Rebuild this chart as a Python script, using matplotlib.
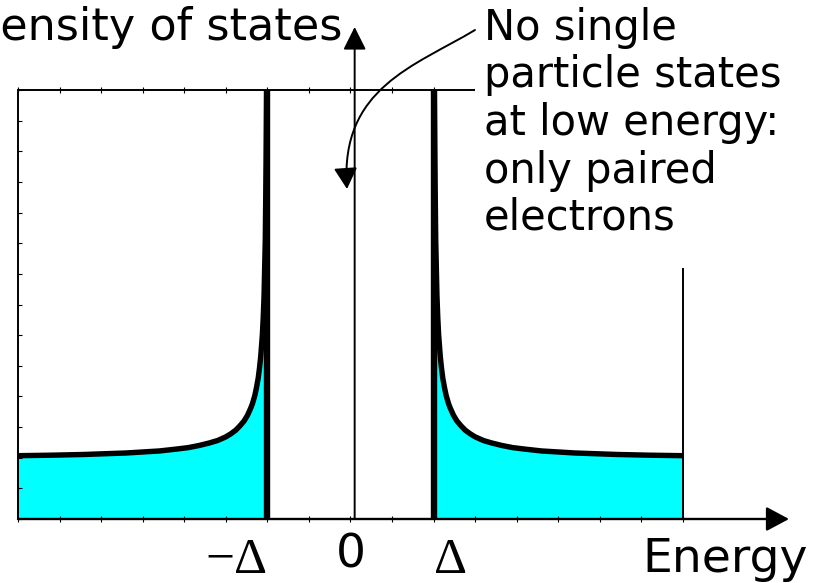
import matplotlib
matplotlib.use("Agg")
import matplotlib.pyplot as plt
import matplotlib.transforms as mtransforms
from matplotlib.patches import FancyArrowPatch, Rectangle
from matplotlib.path import Path
import numpy as np

# BCS quasiparticle density of states (units of N(0), energy in units of the gap)
gap_energy = [1.0, 1.008, 1.015, 1.025, 1.04, 1.05, 1.06, 1.08, 1.095, 1.11, 1.13, 1.15,
              1.18, 1.20, 1.24, 1.28, 1.33, 1.38, 1.44, 1.50, 1.60, 1.70, 1.82, 1.95,
              2.1, 2.3, 2.7, 3.2, 3.6, 4.0]
gap_dos = [7.0, 7.0, 5.84, 4.56, 3.64, 3.28, 3.01, 2.65, 2.46, 2.30, 2.15, 2.02,
           1.88, 1.81, 1.69, 1.60, 1.52, 1.45, 1.39, 1.34, 1.28, 1.24, 1.20, 1.165,
           1.14, 1.11, 1.077, 1.053, 1.041, 1.033]
gap = 1.0
e_min, e_max = -4.0, 4.0
dos_max = 7.0

x_tick_labels = ["\u2212\u0394", "0", "\u0394"]
y_label = "Density of states"
x_label = "Energy"
note_lines = ["No single", "particle states", "at low energy:", "only paired", "electrons"]

W, H = 820, 583
fig = plt.figure(figsize=(W / 100, H / 100), dpi=100)


def fx(px):
    return px / W


def fy(py):
    return 1 - py / H


ax = fig.add_axes([fx(18), fy(519), fx(683) - fx(18), fy(90) - fy(519)])
ax.set_xlim(e_min, e_max)
ax.set_ylim(0, dos_max)

e_pos = np.array(gap_energy)
d_pos = np.array(gap_dos)
for sign in (-1, 1):
    e = sign * e_pos
    ax.fill_between(e, 0, d_pos, color="#00ffff", lw=0, zorder=1)
    ax.plot(e[1:], d_pos[1:], color="black", lw=3.9, solid_capstyle="butt",
            solid_joinstyle="round", zorder=3)
    ax.plot([sign * gap, sign * gap], [0, dos_max], color="black", lw=4.6,
            solid_capstyle="butt", zorder=3)

for side, sp in ax.spines.items():
    sp.set_linewidth(1.4)
    sp.set_zorder(2.5)

ax.set_xticks(np.arange(e_min, e_max + 0.01, 0.5))
ax.set_yticks(np.arange(0, dos_max + 0.01, 0.5))
ax.tick_params(axis="x", which="both", top=True, bottom=True, direction="inout",
               length=4, width=0.8, labelbottom=False)
ax.tick_params(axis="y", which="both", left=True, right=False, direction="in",
               length=3, width=0.8, labelleft=False)

# white panel behind the note
fig.add_artist(Rectangle((fx(475), fy(268)), 1 - fx(475), fy(0) - fy(268),
                         transform=fig.transFigure, facecolor="white",
                         edgecolor="none", zorder=2))

# energy axis arrow
fig.add_artist(FancyArrowPatch((fx(18), fy(519)), (fx(789), fy(519)),
                               transform=fig.transFigure,
                               arrowstyle="-|>,head_length=14,head_width=7.5",
                               mutation_scale=1, lw=1.7, color="black",
                               shrinkA=0, shrinkB=0, zorder=5))
# density-of-states axis arrow
axis_x = ax.transData.transform((0.05, 0))[0]
fig.add_artist(FancyArrowPatch((axis_x / W, fy(519)), (axis_x / W, fy(27)),
                               transform=fig.transFigure,
                               arrowstyle="-|>,head_length=14,head_width=7",
                               mutation_scale=1, lw=1.4, color="black",
                               shrinkA=0, shrinkB=0, zorder=5))

# curved pointer from the note into the gap
pointer = Path([(fx(475), fy(30)), (fx(415), fy(66)), (fx(340), fy(88)), (fx(347), fy(189))],
               [Path.MOVETO, Path.CURVE4, Path.CURVE4, Path.CURVE4])
fig.add_artist(FancyArrowPatch(path=pointer, transform=fig.transFigure,
                               arrowstyle="-|>,head_length=13,head_width=7.2",
                               mutation_scale=1, lw=1.4, color="black", zorder=5))

sans = "DejaVu Sans"
serif = "Liberation Serif"

fig.text(fx(342), fy(40), y_label, ha="right", va="baseline", fontsize=32,
         family=sans, zorder=6)
for i, line in enumerate(note_lines):
    fig.text(fx(484), fy(40 + 47.5 * i), line, ha="left", va="baseline",
             fontsize=30, family=sans, zorder=6)

blend = mtransforms.blended_transform_factory(ax.transData, fig.transFigure)
ax.text(-gap, fy(573), x_tick_labels[0], transform=blend, ha="right", va="baseline",
        fontsize=37, family=serif, clip_on=False)
ax.text(0, fy(567), x_tick_labels[1], transform=blend, ha="center", va="baseline",
        fontsize=34, family=sans, clip_on=False)
ax.text(gap, fy(573), x_tick_labels[2], transform=blend, ha="left", va="baseline",
        fontsize=37, family=serif, clip_on=False)
fig.text(fx(642), fy(572), x_label, ha="left", va="baseline", fontsize=34,
         family=sans, zorder=6)

fig.savefig("out.png", dpi=100)
